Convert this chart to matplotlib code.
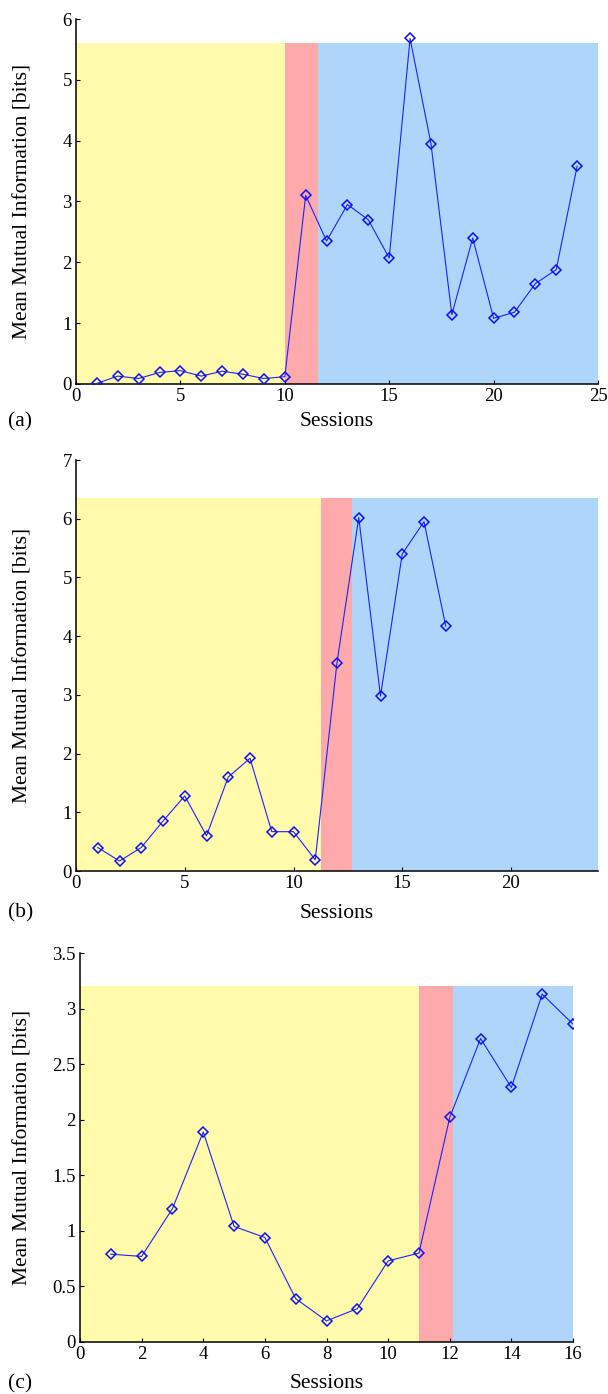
import matplotlib

matplotlib.use("Agg")
import matplotlib.pyplot as plt

plt.rcParams["font.family"] = ["Liberation Serif", "DejaVu Serif"]

# session-wise mean mutual information
sessions_a = list(range(1, 25))
mi_a = [0.01, 0.13, 0.09, 0.19, 0.22, 0.13, 0.21, 0.16, 0.09, 0.12,
        3.10, 2.35, 2.95, 2.70, 2.07, 5.68, 3.95, 1.14, 2.40, 1.08,
        1.18, 1.65, 1.88, 3.58]

sessions_b = list(range(1, 18))
mi_b = [0.40, 0.17, 0.40, 0.85, 1.28, 0.60, 1.60, 1.92, 0.67, 0.67,
        0.19, 3.55, 6.02, 2.98, 5.40, 5.95, 4.17]

sessions_c = list(range(1, 17))
mi_c = [0.79, 0.77, 1.20, 1.89, 1.04, 0.94, 0.39, 0.19, 0.30, 0.73,
        0.80, 2.02, 2.73, 2.29, 3.13, 2.86]

# phase boundaries (start, end) and shading height per panel
phases_a = [(0, 10), (10, 11.6), (11.6, 25)]
shade_top_a = 5.6
phases_b = [(0, 11.25), (11.25, 12.7), (12.7, 24)]
shade_top_b = 6.35
phases_c = [(0, 11), (11, 12.1), (12.1, 16)]
shade_top_c = 3.2

PHASE_COLORS = ["#fffbaa", "#ffaaaa", "#aed6fb"]
LINE_COLOR = "#2020ff"
W = 608.0
H = 1394.0


def _panel(fig, box, x, y, phases, shade_top, xlim, ylim, xticks, yticks, ytick_labels, tag, tag_y):
    left, top, right, bottom = box
    ax = fig.add_axes([left / W, 1 - bottom / H, (right - left) / W, (bottom - top) / H])
    for (x0, x1), color in zip(phases, PHASE_COLORS):
        ax.fill_between([x0, x1], 0, shade_top, color=color, lw=0, zorder=1)
    ax.plot(x, y, color=LINE_COLOR, lw=0.8, marker="D", ms=5.5, mfc="none",
            mec="#1010ee", mew=1.1, zorder=3)
    ax.set_xlim(*xlim)
    ax.set_ylim(*ylim)
    ax.set_xticks(xticks)
    ax.set_yticks(yticks)
    ax.set_yticklabels(ytick_labels)
    ax.spines["top"].set_visible(False)
    ax.spines["right"].set_visible(False)
    ax.spines["left"].set_linewidth(1.1)
    ax.spines["bottom"].set_linewidth(1.1)
    ax.tick_params(direction="in", length=3, labelsize=13.5, pad=3)
    ax.set_xlabel("Sessions", fontsize=15.5)
    ax.xaxis.set_label_coords(0.5, -(tag_y - bottom) / (bottom - top))
    ax.xaxis.label.set_va("center")
    ax.set_ylabel("Mean Mutual Information [bits]", fontsize=15.5)
    ax.yaxis.set_label_coords(-(left - 23) / (right - left), 0.5)
    ax.yaxis.label.set_va("center")
    fig.text(8 / W, 1 - tag_y / H, tag, fontsize=15.5, va="center", ha="left")
    return ax


def main() -> None:
    fig = plt.figure(figsize=(6.08, 13.94), dpi=100)

    _panel(fig, (76, 19, 598, 384), sessions_a, mi_a, phases_a, shade_top_a,
           (0, 25), (0, 6), [0, 5, 10, 15, 20, 25], list(range(0, 7)),
           [str(v) for v in range(0, 7)], "(a)", 422)
    _panel(fig, (76, 460, 598, 871), sessions_b, mi_b, phases_b, shade_top_b,
           (0, 24), (0, 7), [0, 5, 10, 15, 20], list(range(0, 8)),
           [str(v) for v in range(0, 8)], "(b)", 913)
    c_ticks = [0, 0.5, 1, 1.5, 2, 2.5, 3, 3.5]
    _panel(fig, (80, 953, 573, 1342), sessions_c, mi_c, phases_c, shade_top_c,
           (0, 16), (0, 3.5), list(range(0, 17, 2)), c_ticks,
           [f"{v:g}" for v in c_ticks], "(c)", 1384)

    fig.savefig("out.png", dpi=100)
    plt.close(fig)


if __name__ == "__main__":
    main()
